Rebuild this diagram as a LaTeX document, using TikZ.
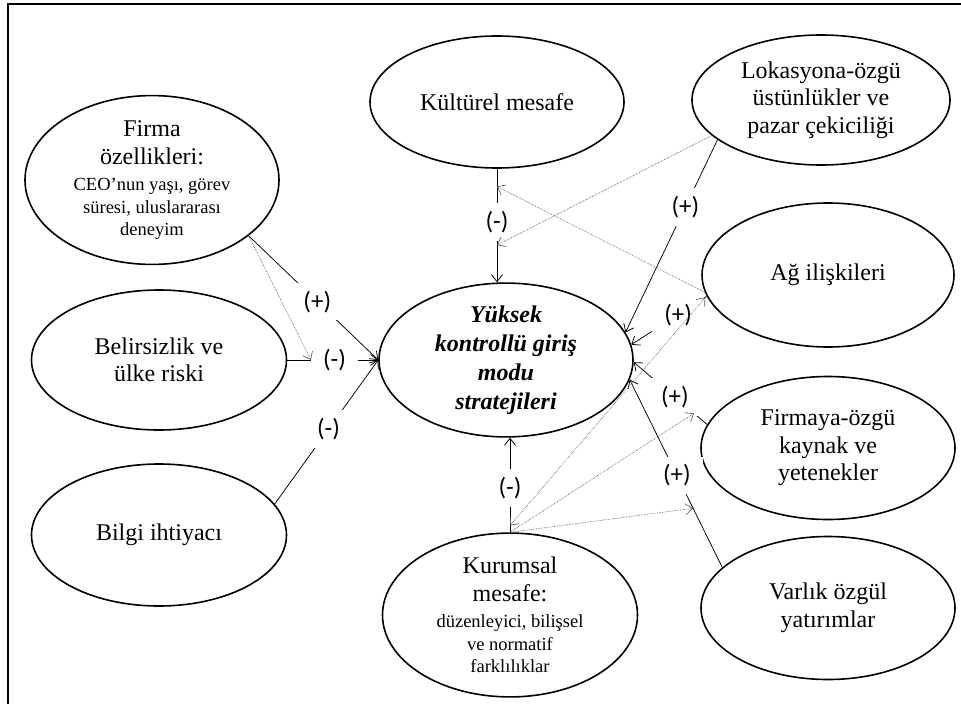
\documentclass[tikz,border=0pt]{standalone}
\usepackage{fontspec}
\setmainfont{Liberation Serif}
\newfontfamily\lblfont{Carlito}
\usetikzlibrary{arrows.meta,shapes.geometric}
\newcommand\smalltxt{\fontsize{18.5}{22.5}\selectfont}
\begin{document}
\begin{tikzpicture}[x=1pt,y=-1pt,
  oval/.style={ellipse, draw, line width=1.6pt, inner sep=0pt, minimum width=254pt, minimum height=142pt, align=center, font=\fontsize{24}{27.5}\selectfont},
  link/.style={line width=0.75pt, -{Straight Barb[length=7pt,width=11pt]}},
  mod/.style={line width=0.65pt, densely dotted, draw=black!65, -{Straight Barb[length=7pt,width=11pt]}},
  lbl/.style={fill=white, inner xsep=12pt, inner ysep=8pt, font=\lblfont\fontsize{25}{27}\selectfont},
]
\useasboundingbox (0,0) rectangle (961,704);
\draw[line width=1.2pt] (8,704) -- (8,4) -- (961,4);

\node[oval, minimum height=132pt] (kult) at (497,102) {Kültürel mesafe};
\node[oval, minimum width=258pt, minimum height=130pt] (lok) at (821,100) {Lokasyona-özgü\\üstünlükler ve\\pazar çekiciliği};
\node[oval, minimum height=146pt] (firma) at (152,180) {Firma\\[1pt]özellikleri:\\[-1.5pt]{\smalltxt CEO’nun yaşı, görev}\\[-5pt]{\smalltxt süresi, uluslararası}\\[-5pt]{\smalltxt deneyim}};
\node[oval, minimum width=255pt, minimum height=140pt] (belir) at (159,360) {Belirsizlik ve\\ülke riski};
\node[oval, minimum width=255pt] (bilgi) at (159,535) {Bilgi ihtiyacı};
\node[oval, minimum height=140pt, font=\fontsize{24}{29}\selectfont\bfseries\itshape] (merk) at (506,360) {Yüksek\\kontrollü giriş\\modu\\stratejileri};
\node[oval, minimum width=252pt, minimum height=144pt] (ag) at (828,275) {Ağ ilişkileri};
\node[oval, minimum height=143pt] (firmaya) at (828,448) {Firmaya-özgü\\kaynak ve\\yetenekler};
\node[oval, minimum height=143pt] (varlik) at (828,608) {Varlık özgül\\yatırımlar};
\node[oval, minimum width=255pt, minimum height=145pt] (kurum) at (510,615) {Kurumsal\\mesafe:\\[-1pt]{\smalltxt düzenleyici, bilişsel}\\[-5pt]{\smalltxt ve normatif}\\[-5pt]{\smalltxt farklılıklar}};

% main effects
\draw[link] (kult.south) -- (kult.south |- merk.north) coordinate[pos=0.156] (k1) coordinate[pos=0.672] (k2) node[lbl,pos=0.47] {(-)};
\draw[link] (lok.201) -- (merk.13) node[lbl,pos=0.35] {(+)};
\draw[link] (ag.190) -- (merk.7) coordinate[pos=0.02] (a1) node[lbl,pos=0.38] {(+)};
\draw[link] (firmaya.169) -- (merk.-1) coordinate[pos=0.18] (f1) node[lbl,pos=0.44] {(+)};
\draw[link] (varlik.159) -- (merk.-9) coordinate[pos=0.315] (v1) node[lbl,pos=0.49] {(+)};
\draw[link] (kurum.north) -- (kurum.north |- merk.south) coordinate[pos=0.07] (kc) node[lbl,pos=0.47] {(-)};
\draw[link] (firma.-30) -- (merk.west) node[lbl,pos=0.53] {(+)};
\draw[link] (belir.east) -- (merk.west) coordinate[pos=0.26] (b1) node[lbl,pos=0.52] {(-)};
\draw[link] (bilgi.15) -- (merk.west) node[lbl,pos=0.52] {(-)};

% moderating effects
\draw[mod] (lok.198) -- (k2);
\draw[mod] (ag.188) -- (k1);
\draw[mod] (firma.-30) -- (b1);
\draw[mod, {Straight Barb[length=7pt,width=11pt]}-{Straight Barb[length=7pt,width=11pt]}] (a1) -- (kc);
\draw[mod] (kurum.north) -- (f1);
\draw[mod] (kurum.north) -- (v1);
\end{tikzpicture}
\end{document}
